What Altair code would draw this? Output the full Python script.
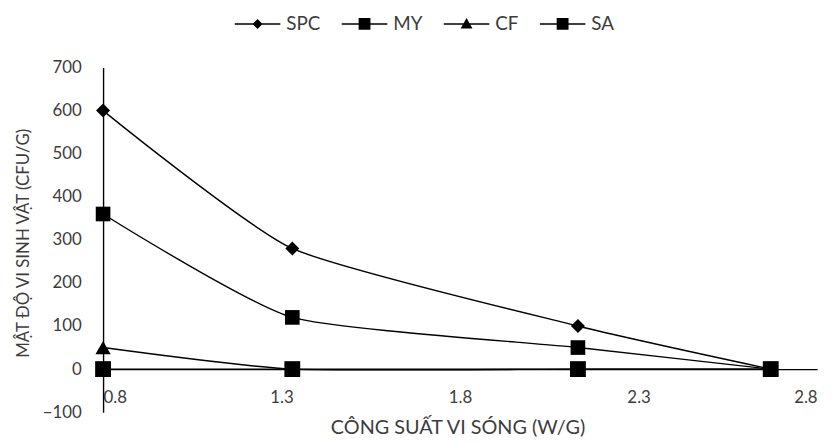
import altair as alt
import pandas as pd

# ---- data ----
power = [0.8, 1.33, 2.13, 2.67]          # microwave power (W/g)
series_names = ["SPC", "MY", "CF", "SA"]
spc = [600, 280, 100, 0]
my = [360, 120, 50, 0]
cf = [50, 0, 0, 0]
sa = [0, 0, 0, 0]
x_ticks = [0.8, 1.3, 1.8, 2.3, 2.8]
y_ticks = [-100, 0, 100, 200, 300, 400, 500, 600, 700]

rows = []
for name, vals in zip(series_names, [spc, my, cf, sa]):
    for xv, yv in zip(power, vals):
        rows.append({"x": xv, "v": yv, "series": name})
df = pd.DataFrame(rows)

FONT = "Lato"
TXT = "#3c3c3c"

X = alt.X(
    "x:Q",
    scale=alt.Scale(domain=[0.8, 2.8], nice=False, zero=False),
    axis=alt.Axis(
        values=x_ticks, format=".1f", title="CÔNG SUẤT VI SÓNG (W/G)",
        ticks=False, tickSize=0, grid=False, offset=-43.5,
        labelPadding=29, labelBaseline="middle",
        titleX=358, titleY=59, titleBaseline="middle", titleAlign="center",
        titleFontSize=20,
    ),
)
Y = alt.Y(
    "v:Q",
    scale=alt.Scale(domain=[-100, 700], nice=False, zero=False),
    axis=alt.Axis(
        values=y_ticks, title="MẬT ĐỘ VI SINH VẬT (CFU/G)",
        ticks=False, tickSize=0, grid=False, labelPadding=22,
        titleX=-80, titleY=177, titleAngle=270,
        titleAlign="center", titleBaseline="middle",
        titleFontSize=17,
    ),
)

lines = alt.Chart(df).mark_line(
    interpolate="cardinal", tension=0.45, color="black", strokeWidth=1.4
).encode(x=X, y=Y, detail="series:N")

points = alt.Chart(df).mark_point(
    filled=True, opacity=1, color="black"
).encode(
    x=X, y=Y,
    shape=alt.Shape("series:N", scale=alt.Scale(domain=series_names,
                    range=["diamond", "square", "triangle-up", "square"]), legend=None),
    size=alt.Size("series:N", scale=alt.Scale(domain=series_names,
                  range=[200, 256, 170, 256]), legend=None),
)

# legend symbols: a short horizontal bar with the series marker on it
BAR = "M-1,-0.033H1V0.033H-1Z"
legend_paths = [
    BAR + "M-0.22,0L0,-0.22L0.22,0L0,0.22Z",
    BAR + "M-0.26,-0.26H0.26V0.26H-0.26Z",
    BAR + "M0,-0.26L0.26,0.2L-0.26,0.2Z",
    BAR + "M-0.26,-0.26H0.26V0.26H-0.26Z",
]

legend_layer = alt.Chart(df).transform_filter("false").mark_point(
    filled=True, opacity=1, color="black"
).encode(
    x=X, y=Y,
    shape=alt.Shape(
        "series:N",
        scale=alt.Scale(domain=series_names, range=legend_paths),
        legend=alt.Legend(
            title=None, orient="none", legendX=133, legendY=-67,
            direction="horizontal", columns=4, symbolSize=2116,
            symbolFillColor="black", symbolOpacity=1, symbolStrokeWidth=0,
            labelFontSize=19, labelColor=TXT, labelFont=FONT,
            labelOffset=6, columnPadding=21, padding=0,
        ),
    ),
)

chart = (
    alt.layer(lines, points, legend_layer)
    .resolve_scale(shape="independent")
    .properties(
        width=721, height=348,
        autosize=alt.AutoSizeParams(type="none"),
        padding={"left": 96, "top": 58, "right": 14, "bottom": 27},
    )
    .configure_view(stroke=None)
    .configure_axis(
        domainColor="black", domainWidth=1.4,
        labelFont=FONT, labelFontSize=17, labelColor=TXT,
        titleFont=FONT, titleFontWeight="normal", titleColor=TXT,
    )
)

chart.save("out.html", embed_options={"renderer": "svg", "actions": False})
